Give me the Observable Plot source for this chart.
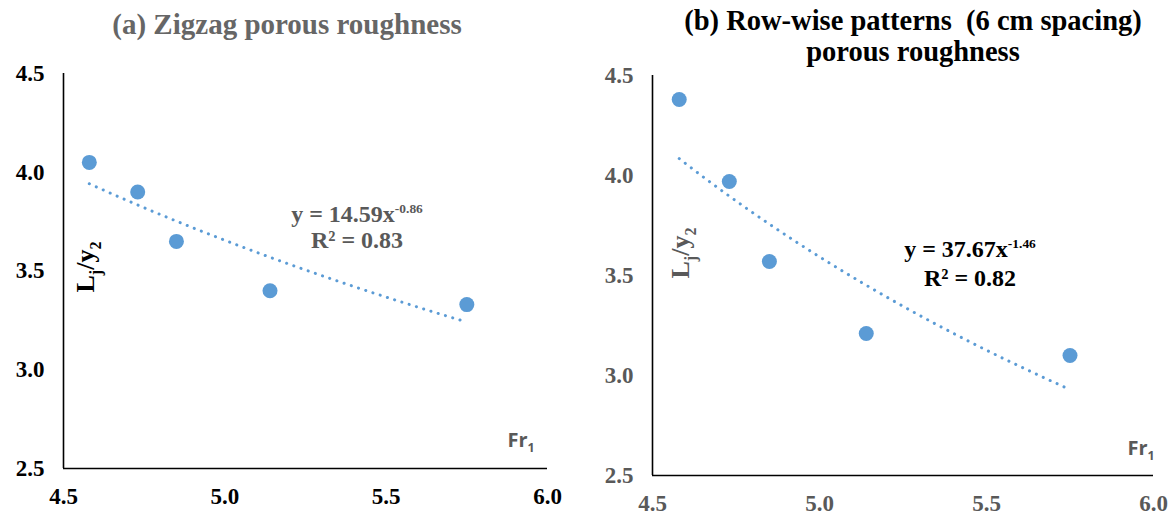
<!DOCTYPE html>
<html>
<head>
<meta charset="utf-8">
<script src="https://cdn.jsdelivr.net/npm/d3@7"></script>
<script src="https://cdn.jsdelivr.net/npm/@observablehq/plot@0.6"></script>
<style>
  html, body { margin: 0; padding: 0; background: #fff; }
  #wrap { position: relative; width: 1172px; height: 519px; overflow: hidden; }
  .panel { position: absolute; top: 0; }
  .panel text, .panel g { font-family: "Liberation Serif", "Times New Roman", serif !important; font-weight: bold; }
  .lbl { position: absolute; transform: translate(-50%, -50%); white-space: nowrap;
         font-family: "Liberation Serif", "Times New Roman", serif; font-weight: bold; text-align: center; }
  .lbl sub { font-size: 62%; }
  .lbl sup { font-size: 56%; }
</style>
</head>
<body>
<div id="wrap"></div>
<script>
// ---- data ----
const fr = [4.58, 4.73, 4.85, 5.14, 5.75];          // Fr1
const ljA = [4.05, 3.90, 3.65, 3.40, 3.33];         // (a) Zigzag
const ljB = [4.38, 3.97, 3.57, 3.21, 3.10];         // (b) Row-wise 6 cm
const xTicks = [4.5, 5.0, 5.5, 6.0];
const yTicks = [2.5, 3.0, 3.5, 4.0, 4.5];
const fitA = [14.59, -0.86];  // power trendline coefficients (a)
const fitB = [37.67, -1.46];  // power trendline coefficients (b)

const blue = "#5B9BD5";
const serif = "Liberation Serif, Times New Roman, serif";
const wrap = document.getElementById("wrap");

function trend(fit) {
  const x0 = d3.min(fr), x1 = d3.max(fr);
  return d3.range(0, 61).map(i => {
    const x = x0 + (x1 - x0) * i / 60;
    return {x, y: fit[0] * Math.pow(x, fit[1])};
  });
}

function panel({ys, fit, left, m, tickColor}) {
  const pts = fr.map((x, i) => ({x, y: ys[i]}));
  const chart = Plot.plot({
    width: 586, height: 519,
    marginLeft: m[0], marginRight: m[1], marginTop: m[2], marginBottom: m[3],
    style: {fontFamily: serif, fontSize: "23px", fontWeight: "bold", background: "transparent"},
    x: {domain: [4.5, 6.0]},
    y: {domain: [2.5, 4.5]},
    marks: [
      Plot.axisX(xTicks, {tickSize: 0, tickPadding: 19, tickFormat: d => d.toFixed(1), fill: tickColor, fontSize: 23, fontFamily: serif, fontWeight: "bold", label: null}),
      Plot.axisY(yTicks, {tickSize: 0, tickPadding: 19, tickFormat: d => d.toFixed(1), fill: tickColor, fontSize: 23, fontFamily: serif, fontWeight: "bold", label: null}),
      Plot.ruleX([4.5], {stroke: "#000", strokeWidth: 1.6}),
      Plot.ruleY([2.5], {stroke: "#000", strokeWidth: 1.6}),
      Plot.line(trend(fit), {x: "x", y: "y", stroke: blue, strokeWidth: 3, strokeDasharray: "0.1 7.5", strokeLinecap: "round"}),
      Plot.dot(pts, {x: "x", y: "y", r: 7.5, fill: blue, stroke: "none"})
    ]
  });
  chart.classList.add("panel");
  chart.style.left = left + "px";
  wrap.appendChild(chart);
}

panel({ys: ljA, fit: fitA, left: 0, m: [63, 39, 73, 51], tickColor: "#000"});
panel({ys: ljB, fit: fitB, left: 586, m: [66, 19, 75, 44], tickColor: "#595959"});

function label(html, x, y, css) {
  const d = document.createElement("div");
  d.className = "lbl";
  d.innerHTML = html;
  d.style.left = x + "px";
  d.style.top = y + "px";
  Object.assign(d.style, css || {});
  wrap.appendChild(d);
  return d;
}

// titles
label("(a) Zigzag porous roughness", 287, 24, {fontSize: "29px", color: "#666"});
label("(b) Row-wise patterns&nbsp; (6 cm spacing)<br>porous roughness", 913, 36, {fontSize: "28.5px", lineHeight: "31px", color: "#000"});

// equations
const supA = "" + fitA[1].toFixed(2), supB = "" + fitB[1].toFixed(2);
label(`y = ${fitA[0]}x<sup>${supA}</sup><br>R² = 0.83`, 357, 224, {fontSize: "24px", lineHeight: "26px", color: "#595959"});
label(`y = ${fitB[0]}x<sup>${supB}</sup><br>R² = 0.82`, 970, 261, {fontSize: "24px", lineHeight: "29px", color: "#000"});

// y axis labels
label("L<sub>j</sub>/y<sub>2</sub>", 88, 267, {fontSize: "26px", color: "#000", transform: "translate(-50%,-50%) rotate(-90deg)"});
label("L<sub>j</sub>/y<sub>2</sub>", 683, 253, {fontSize: "26px", color: "#595959", transform: "translate(-50%,-50%) rotate(-90deg)"});

// x axis labels
label("Fr<sub>1</sub>", 521, 441, {fontSize: "20px", color: "#595959", fontFamily: "Open Sans, Liberation Sans, sans-serif"});
label("Fr<sub>1</sub>", 1141, 449, {fontSize: "20px", color: "#595959", fontFamily: "Open Sans, Liberation Sans, sans-serif"});
</script>
</body>
</html>
